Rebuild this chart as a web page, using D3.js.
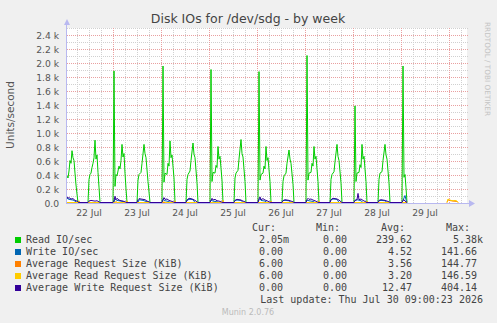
<!DOCTYPE html>
<html lang="en">
<head>
  <meta charset="UTF-8">
  <title>Disk IOs for /dev/sdg - by week</title>
  <script src="https://cdn.jsdelivr.net/npm/d3@7"></script>
  <style>
    body { margin: 0; background: #f0f0f0; }
    svg { display: block; font-family: "DejaVu Sans", sans-serif; }
    .mono { font-family: "DejaVu Sans Mono", monospace; }
  </style>
</head>
<body>
<svg id="chart" width="497" height="323"></svg>
<script>
  // time is hours after Jul 22 01:00, values are per second / KiB
  var startTime = new Date(2026, 6, 22, 1, 0);
  var endTime = new Date(2026, 6, 30, 9, 0);

  var readIO = [
    [0,380],[0.5,350],[1,450],[1.5,600],[2,560],[2.5,740],[3,640],[3.5,600],[4,420],[4.5,250],[5,120],[5.5,0],
    [10.5,0],[11,330],[11.5,400],[12,420],[12.5,500],[13,560],[13.5,640],[14,890],[14.5,620],[15,680],[15.5,430],[16,220],[16.5,0],
    [23,0],[23.5,1880],[24,230],[24.5,400],[25,380],[26,520],[26.5,480],[27,600],[27.5,830],[28,650],[28.5,700],[29,420],[29.5,200],[30,0],
    [35,0],[35.5,320],[36,400],[37,430],[37.5,560],[38.5,830],[39,700],[39.5,640],[40.5,300],[41.5,0],
    [47.5,0],[48,1950],[48.5,290],[49,420],[50,400],[50.5,560],[51,520],[51.5,880],[52,640],[52.5,680],[53.5,350],[54,0],
    [59.5,0],[60,330],[60.5,400],[61.5,450],[62,600],[63,850],[63.5,690],[64,640],[65,280],[65.5,0],
    [71.5,0],[72,1900],[72.5,300],[73,430],[74,420],[74.5,530],[75,500],[75.5,800],[76,620],[76.5,660],[77.5,320],[78,0],
    [83.5,0],[84,350],[84.5,420],[85.5,460],[86,620],[87,900],[87.5,700],[88,650],[89,300],[89.5,0],
    [95.5,0],[96,1870],[96.5,320],[97,400],[98,420],[98.5,520],[99,480],[99.5,800],[100,600],[100.5,640],[101.5,300],[102,0],
    [107.5,0],[108,300],[108.5,380],[109.5,420],[110,560],[111,750],[111.5,620],[112,560],[113,260],[113.5,0],
    [119.5,0],[120,2100],[120.5,320],[121,420],[122,430],[122.5,560],[123,520],[123.5,800],[124,620],[124.5,660],[125.5,300],[126,0],
    [131.5,0],[132,330],[132.5,400],[133.5,440],[134,580],[135,830],[135.5,660],[136,600],[137,280],[137.5,0],
    [143.5,0],[144,1380],[144.5,300],[145,420],[146,430],[146.5,540],[147,500],[147.5,830],[148,620],[148.5,660],[149.5,300],[150,0],
    [155.5,0],[156,330],[156.5,420],[157.5,440],[158,600],[159,830],[159.5,680],[160,620],[161,280],[161.5,0],
    [167.5,0],[168,1950],[168.5,360],[169,400],[169.5,210],[170,0],[170.5,null]
  ];

  var writeIO = [
    [0,60],[1,45],[2,40],[3,35],[4,20],[5,0],
    [23.5,0],[24,50],[25,30],[26,25],[28,15],[29,0],
    [35.5,0],[36,40],[37,35],[38,30],[40,10],[41,0],
    [47.5,0],[48,45],[49,25],[50,20],[52,0],
    [59.5,0],[60,30],[61,45],[62,45],[63,40],[64,0],
    [71.5,0],[72,35],[73,20],[75,10],[76,0],
    [83.5,0],[84,30],[85,35],[87,30],[88,0],
    [95.5,0],[96,40],[96.5,55],[97,30],[99,20],[100,0],
    [107.5,0],[108,30],[109,30],[111,25],[112,0],
    [119.5,0],[120,35],[121,25],[123,15],[124,0],
    [131.5,0],[132,40],[133,50],[135,45],[136,0],
    [143.5,0],[144,30],[145,40],[147,25],[148,0],
    [155.5,0],[156,25],[157,30],[159,25],[160,0],
    [167.5,0],[168,30],[169,100],[169.5,40],[170,0],[170.5,null]
  ];

  var avgReqSize = [
    [0,0],[5.5,0],[6,20],[6.5,0],[24,0],[24.5,12],[25,0],[29.5,0],[30,20],[30.5,0],
    [53.5,0],[54,20],[54.5,0],[77.5,0],[78,25],[78.5,0],[101.5,0],[102,15],[102.5,0],
    [125.5,0],[126,20],[126.5,0],[149.5,0],[150,15],[150.5,0],[170,0],[170.5,null],
    [189.5,null],[190,0],[190.5,40],[191,30],[193,20],[195,15],[195.5,0],[196,null]
  ];

  var avgReadSize = [
    [0,0],[5.5,0],[6,25],[6.5,0],[24,0],[24.5,15],[25,0],[29.5,0],[30,25],[30.5,0],
    [48,0],[48.5,15],[49,0],[53.5,0],[54,25],[54.5,0],[77.5,0],[78,30],[78.5,0],
    [101.5,0],[102,20],[102.5,0],[125.5,0],[126,25],[126.5,0],[149.5,0],[150,20],[150.5,0],
    [169.5,0],[170,15],[170.5,null],
    [189.5,null],[190,0],[190.5,50],[191,40],[192,30],[193,25],[194,30],[195,20],[195.5,0],[196,null]
  ];

  var avgWriteSize = [
    [0,80],[0.5,60],[1,70],[2,50],[3,55],[4,30],[5,20],[5.5,10],[6,0],
    [10.5,0],[11,20],[12,30],[13,25],[14,20],[15,25],[16,10],[16.5,0],
    [23,0],[23.5,30],[24,90],[24.5,40],[25,60],[26,35],[27,25],[28,20],[29,10],[30,0],
    [35,0],[35.5,40],[36,55],[37,50],[38,45],[39,40],[40,20],[41,10],[41.5,0],
    [47.5,0],[48,40],[48.5,70],[49,45],[50,50],[51,30],[52,20],[53,10],[54,0],
    [59.5,0],[60,35],[61,60],[62,55],[63,45],[64,30],[65,10],[65.5,0],
    [71.5,0],[72,30],[72.5,60],[73,35],[74,45],[75,25],[76,20],[77,10],[78,0],
    [83.5,0],[84,30],[85,45],[86,40],[87,35],[88,20],[89,10],[89.5,0],
    [95.5,0],[96,50],[96.5,80],[97,40],[98,55],[99,35],[100,25],[101,10],[102,0],
    [107.5,0],[108,25],[109,40],[110,35],[111,30],[112,20],[113,10],[113.5,0],
    [119.5,0],[120,40],[120.5,60],[121,45],[122,50],[123,35],[124,25],[125,10],[126,0],
    [131.5,0],[132,40],[133,60],[134,55],[135,50],[136,35],[137,10],[137.5,0],
    [143.5,0],[144,30],[145,40],[145.5,130],[146,40],[147,50],[148,30],[149,15],[150,0],
    [155.5,0],[156,30],[157,40],[158,35],[159,30],[160,20],[161,10],[161.5,0],
    [167.5,0],[168,30],[168.5,40],[169,20],[170,0],[170.5,null]
  ];

  var seriesNames = ["Read IO/sec", "Write IO/sec", "Average Request Size (KiB)",
                     "Average Read Request Size (KiB)", "Average Write Request Size (KiB)"];
  var seriesColors = ["#00cc00", "#0066b3", "#ff8000", "#ffcc00", "#330099"];
  var seriesData = [readIO, writeIO, avgReqSize, avgReadSize, avgWriteSize];
  var curVals = ["2.05m", "0.00", "6.00", "6.00", "0.00"];
  var minVals = ["0.00", "0.00", "0.00", "0.00", "0.00"];
  var avgVals = ["239.62", "4.52", "3.56", "3.20", "12.47"];
  var maxVals = ["5.38k", "141.66", "144.77", "146.59", "404.14"];

  var svg = d3.select("#chart");
  var plotL = 67, plotR = 467, plotT = 28, plotB = 203;

  var x = d3.scaleTime().domain([startTime, endTime]).range([plotL, plotR]);
  var y = d3.scaleLinear().domain([0, 2500]).range([plotB, plotT]);
  var toDate = h => new Date(startTime.getTime() + h * 3600e3);

  // plot background
  svg.append("rect").attr("x", plotL).attr("y", plotT)
    .attr("width", plotR - plotL).attr("height", plotB - plotT).attr("fill", "#fff");

  // grid
  var minorX = x.ticks(d3.timeHour.every(6)).filter(d => d.getHours() != 0);
  var majorX = x.ticks(d3.timeDay.every(1));
  svg.append("g").selectAll("line").data(minorX).enter().append("line")
    .attr("x1", d => Math.round(x(d)) + 0.5).attr("x2", d => Math.round(x(d)) + 0.5)
    .attr("y1", plotT).attr("y2", plotB)
    .attr("stroke", "#d0d0d0").attr("stroke-dasharray", "1,1");
  var minorY = d3.range(100, 2600, 200);
  svg.append("g").selectAll("line").data(minorY).enter().append("line")
    .attr("x1", plotL).attr("x2", plotR + 2)
    .attr("y1", d => Math.round(y(d)) + 0.5).attr("y2", d => Math.round(y(d)) + 0.5)
    .attr("stroke", "#d0d0d0").attr("stroke-dasharray", "1,1");
  svg.append("g").selectAll("line").data(majorX).enter().append("line")
    .attr("x1", d => Math.round(x(d)) + 0.5).attr("x2", d => Math.round(x(d)) + 0.5)
    .attr("y1", plotT).attr("y2", plotB)
    .attr("stroke", "#e9a0a0").attr("stroke-dasharray", "1,1");
  var majorY = d3.range(200, 2600, 200);
  svg.append("g").selectAll("line").data(majorY).enter().append("line")
    .attr("x1", plotL).attr("x2", plotR + 2)
    .attr("y1", d => Math.round(y(d)) + 0.5).attr("y2", d => Math.round(y(d)) + 0.5)
    .attr("stroke", "#e9a0a0").attr("stroke-dasharray", "1,1");

  // y tick labels
  svg.append("g").selectAll("text").data(d3.range(0, 2600, 200)).enter().append("text")
    .attr("x", 59).attr("y", d => y(d) + 3.5)
    .attr("text-anchor", "end").attr("font-size", "9.2px").attr("fill", "#555")
    .text(d => d == 0 ? "0.0" : d3.format(".1f")(d / 1000) + " k");

  // x tick labels at noon
  var noons = majorX.map(d => d3.timeHour.offset(d, -12)).filter(d => d > startTime);
  svg.append("g").selectAll("text").data(noons).enter().append("text")
    .attr("x", d => x(d)).attr("y", 216)
    .attr("text-anchor", "middle").attr("font-size", "9.2px").attr("fill", "#555")
    .text(d => d3.timeFormat("%d %b")(d));

  // series
  var line = d3.line()
    .defined(d => d[1] != null)
    .x(d => x(toDate(d[0])))
    .y(d => y(d[1]) - 0.5);
  seriesData.forEach(function(data, i) {
    svg.append("path")
      .attr("d", line(data))
      .attr("fill", "none")
      .attr("stroke", seriesColors[i])
      .attr("stroke-width", 1);
  });

  // axes with arrows
  var axisColor = "#b8b8f0";
  svg.append("line").attr("x1", plotL - 0.5).attr("x2", plotL - 0.5)
    .attr("y1", plotB + 1).attr("y2", 24).attr("stroke", axisColor);
  svg.append("path").attr("d", "M64,25 L67,19 L70,25 Z").attr("fill", axisColor);
  svg.append("line").attr("x1", plotL).attr("x2", 470)
    .attr("y1", plotB + 0.5).attr("y2", plotB + 0.5).attr("stroke", axisColor);
  svg.append("path").attr("d", "M469,200 L475,203.5 L469,207 Z").attr("fill", axisColor);

  // title and labels
  svg.append("text").attr("x", 248).attr("y", 23).attr("text-anchor", "middle")
    .attr("font-size", "12.5px").attr("fill", "#444")
    .text("Disk IOs for /dev/sdg - by week");
  svg.append("text").attr("transform", "translate(14,115) rotate(-90)")
    .attr("text-anchor", "middle").attr("font-size", "10.5px").attr("fill", "#555")
    .text("Units/second");
  svg.append("text").attr("transform", "translate(485,22) rotate(90)")
    .attr("font-size", "7.3px").attr("fill", "#c4c4c4")
    .text("RRDTOOL / TOBI OETIKER");

  // legend
  var legend = svg.append("g").attr("class", "mono").attr("font-size", "10px").attr("fill", "#444");
  var cols = [
    {label: "Cur:", end: 276, vals: curVals, valEnd: 289},
    {label: "Min:", end: 340, vals: minVals, valEnd: 353},
    {label: "Avg:", end: 405, vals: avgVals, valEnd: 418},
    {label: "Max:", end: 470, vals: maxVals, valEnd: 483}
  ];
  cols.forEach(function(c) {
    legend.append("text").attr("x", c.end).attr("y", 231).attr("text-anchor", "end").text(c.label);
    c.vals.forEach(function(v, i) {
      var hasUnit = /[a-z]$/i.test(v);
      legend.append("text").attr("x", hasUnit ? c.valEnd : c.valEnd - 6)
        .attr("y", 243 + i * 12).attr("text-anchor", "end").text(v);
    });
  });
  seriesNames.forEach(function(name, i) {
    legend.append("rect").attr("x", 15).attr("y", 237 + i * 12)
      .attr("width", 6).attr("height", 6).attr("fill", seriesColors[i]);
    legend.append("text").attr("x", 26).attr("y", 243 + i * 12).text(name);
  });
  legend.append("text").attr("x", 483).attr("y", 303).attr("text-anchor", "end")
    .text("Last update: Thu Jul 30 09:00:23 2026");

  svg.append("text").attr("x", 248).attr("y", 315).attr("text-anchor", "middle")
    .attr("font-size", "8px").attr("fill", "#bbb").text("Munin 2.0.76");
</script>
</body>
</html>
